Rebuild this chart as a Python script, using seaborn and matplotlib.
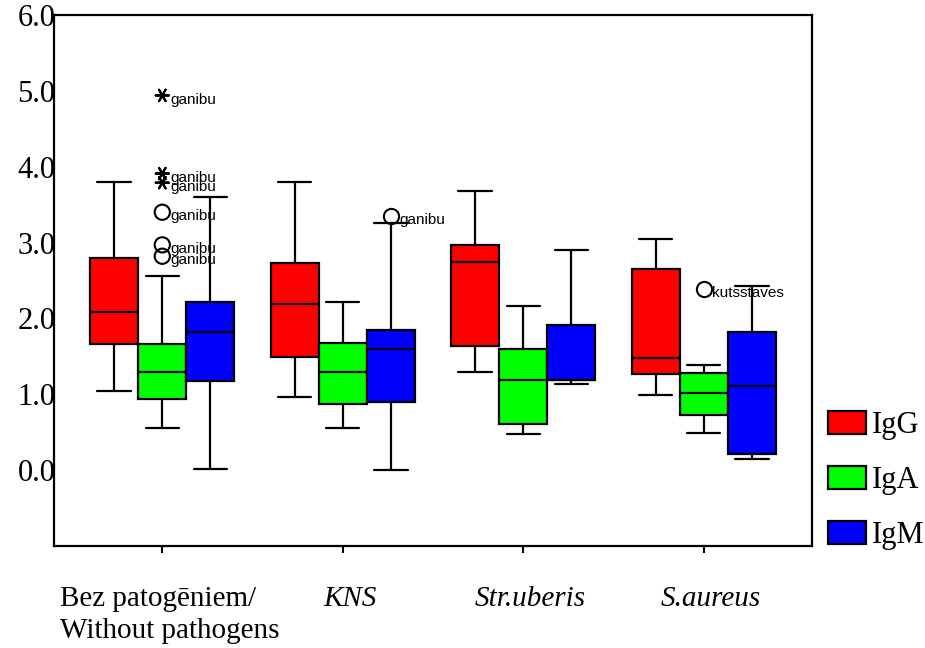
import numpy as np
import pandas as pd
import matplotlib
matplotlib.use("Agg")
import matplotlib.pyplot as plt
import seaborn as sns
from matplotlib.patches import Patch

categories = ["Bez patogēniem/\nWithout pathogens", "KNS", "Str.uberis", "S.aureus"]
italic_cats = [False, True, True, True]
groups = ["IgG", "IgA", "IgM"]
colors = ["#ff0000", "#00ff00", "#0000ff"]

# five-number summaries per category: [lower whisker, Q1, median, Q3, upper whisker]
igg = [[1.04, 1.66, 2.08, 2.80, 3.80],
       [0.97, 1.49, 2.19, 2.73, 3.80],
       [1.29, 1.63, 2.74, 2.97, 3.68],
       [0.99, 1.27, 1.48, 2.65, 3.05]]
iga = [[0.55, 0.94, 1.29, 1.66, 2.56],
       [0.55, 0.87, 1.29, 1.67, 2.21],
       [0.47, 0.61, 1.19, 1.60, 2.16],
       [0.49, 0.73, 1.02, 1.28, 1.38]]
igm = [[0.01, 1.17, 1.82, 2.21, 3.60],
       [0.00, 0.90, 1.60, 1.85, 3.26],
       [1.13, 1.19, 1.19, 1.91, 2.90],
       [0.15, 0.21, 1.11, 1.82, 2.43]]

# outliers / extremes
out_cat = [0, 0, 0, 0, 0, 0, 1, 3]
out_group = ["IgA", "IgA", "IgA", "IgA", "IgA", "IgA", "IgM", "IgA"]
out_val = [4.94, 3.91, 3.79, 3.40, 2.97, 2.82, 3.35, 2.39]
out_kind = ["extreme", "extreme", "extreme", "outlier", "outlier", "outlier", "outlier", "outlier"]
out_label = ["ganibu"] * 7 + ["kutsstaves"]

yticks = [0, 1, 2, 3, 4, 5, 6]
ytick_labels = ["0.0", "1.0", "2.0", "3.0", "4.0", "5.0", "6.0"]

rows = []
for g, summ in zip(groups, [igg, iga, igm]):
    for ci, vals in enumerate(summ):
        for v in vals:
            rows.append({"cat": categories[ci], "group": g, "value": v})
df = pd.DataFrame(rows)

odf = pd.DataFrame({"cat": [categories[i] for i in out_cat], "group": out_group,
                    "value": out_val, "kind": out_kind, "label": out_label})

sns.set_style("white")
plt.rcParams["font.family"] = ["Liberation Serif", "DejaVu Serif"]
plt.rcParams["text.color"] = "black"
plt.rcParams["xtick.color"] = "black"
plt.rcParams["ytick.color"] = "black"

fig = plt.figure(figsize=(9.25, 6.48), dpi=100)
ax = fig.add_axes([54 / 925, 1 - 546 / 648, (812 - 54) / 925, (546 - 15) / 648])

pal = dict(zip(groups, colors))
sns.boxplot(data=df, x="cat", y="value", hue="group", order=categories, hue_order=groups,
            palette=pal, width=0.8, gap=0, whis=(0, 100), saturation=1, linecolor="black",
            linewidth=1.6, legend=False, ax=ax, capwidths=0.185)

for kind, marker, size in [("outlier", "o", 120), ("extreme", (6, 2, 90), 90)]:
    sub = odf[odf["kind"] == kind]
    sns.stripplot(data=sub, x="cat", y="value", hue="group", order=categories,
                  hue_order=groups, dodge=True, jitter=False, marker=marker, s=np.sqrt(size),
                  palette={g: "none" for g in groups} if kind == "outlier" else {g: "black" for g in groups},
                  edgecolor="black", linewidth=1.5, legend=False, ax=ax, zorder=5)

step = 0.8 / len(groups)
for _, r in odf.iterrows():
    xpos = categories.index(r["cat"]) + (groups.index(r["group"]) - 1) * step
    ax.annotate(r["label"], xy=(xpos, r["value"]), xytext=(6, -3), textcoords="offset points",
                ha="left", va="center", fontsize=11, color="black",
                family=["Liberation Sans", "DejaVu Sans"])

ax.set_xlim(-0.6, 3.6)
ax.set_ylim(-1, 6)
ax.set_yticks(yticks)
ax.set_yticklabels(ytick_labels, fontsize=22, color="black")
ax.tick_params(axis="y", length=0, pad=-1)

# x tick marks only; category labels drawn as annotations below the axis
ax.set_xticks(range(len(categories)))
ax.set_xticklabels([""] * len(categories))
ax.tick_params(axis="x", which="major", length=5, width=1.5, direction="out", bottom=True)
label_offset = 0.04
for i, (cat, it) in enumerate(zip(categories, italic_cats)):
    ax.annotate(cat, xy=(i + label_offset, 0), xycoords=("data", "axes fraction"),
                xytext=(0, -40), textcoords="offset pixels", ha="center", va="top",
                multialignment="left", linespacing=1.32, fontsize=21, color="black",
                fontstyle="italic" if it else "normal", annotation_clip=False)
ax.set_xlabel("")
ax.set_ylabel("")
for sp in ax.spines.values():
    sp.set_visible(True)
    sp.set_color("black")
    sp.set_linewidth(1.6)

handles = [Patch(facecolor=c, edgecolor="black", linewidth=1.6) for c in colors]
fig.legend(handles, groups, loc="upper left", bbox_to_anchor=(828 / 925, 1 - 411 / 648),
           frameon=False, handlelength=1.25, handleheight=0.78, labelspacing=0.85,
           handletextpad=0.2, borderaxespad=0, borderpad=0, prop={"size": 22},
           labelcolor="black")

fig.savefig("out.png", dpi=100)
